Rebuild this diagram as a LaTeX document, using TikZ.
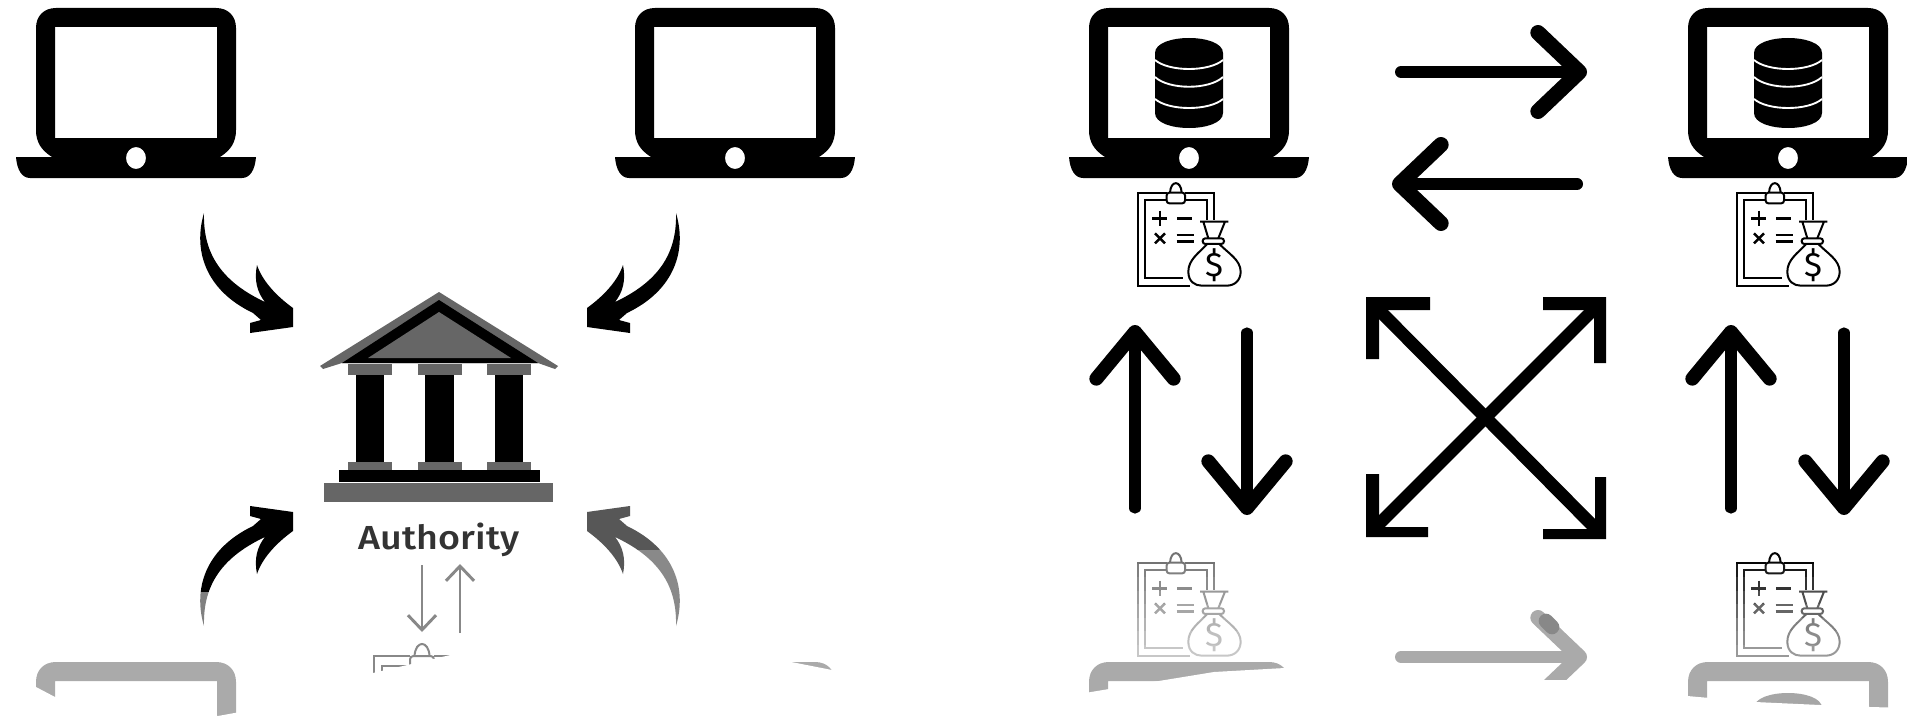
\documentclass[tikz,border=0pt]{standalone}
\usepackage{fontspec}
\setsansfont{Fira Sans}
\newfontfamily\authfont{Fira Sans Medium}
\usetikzlibrary{arrows.meta}
\definecolor{roofgrey}{HTML}{666666}
\definecolor{fadeA}{HTML}{AAAAAA}
\definecolor{fadeB}{HTML}{888888}
\tikzset{
  bigarrow/.style={line width=9pt,line cap=round,-{Straight Barb[length=31pt,width=59pt,line width=11.5pt,round]}},
  tallarrow/.style={line width=8.4pt,line cap=round,-{Straight Barb[length=35pt,width=58pt,line width=10.5pt,round]}},
  thinarrow/.style={fadeB,line width=2.2pt,-{Straight Barb[length=11pt,width=21pt,line width=2.2pt]}},
  crossline/.style={line width=9.5pt},
  pics/laptop/.style={code={
    \fill[#1,even odd rule]
      (-120,157) -- (-84,157) .. controls (-95,150) and (-100,142) .. (-100,130)
      -- (-100,28) .. controls (-100,16) and (-92,8) .. (-80,8)
      -- (80,8) .. controls (92,8) and (100,16) .. (100,28)
      -- (100,130) .. controls (100,142) and (95,150) .. (84,157)
      -- (120,157) .. controls (119,170) and (114,178) .. (106,178)
      -- (-106,178) .. controls (-114,178) and (-119,170) .. (-120,157) -- cycle
      (-81,27) rectangle (81,138)
      (0,158) ellipse [x radius=10,y radius=11];
  }},
  pics/dbicon/.style={code={
    \fill[#1] (-34,53) -- (-34,113) .. controls (-34,133) and (34,133) .. (34,113)
      -- (34,53) .. controls (34,33) and (-34,33) .. (-34,53) -- cycle;
    \draw[white,line width=1.4pt] (-34,60) .. controls (-20,72) and (20,72) .. (34,60);
    \draw[white,line width=1.4pt] (-34,77) .. controls (-20,90) and (20,90) .. (34,77);
    \draw[white,line width=1.4pt] (-34,99) .. controls (-20,111) and (20,111) .. (34,99);
  }},
  pics/ledgertop/.style={code={
    \begin{scope}[draw=#1,line width=1.5pt]
      \draw (140,68) -- (55,68) -- (55,348) -- (210,348);
      \draw (140,90) -- (75,90) -- (75,325) -- (190,325);
      \draw (195,68) -- (283,68) -- (283,150);
      \draw (195,90) -- (262,90) -- (262,150);
      \draw[rounded corners=2pt] (140,68) rectangle (195,100);
      \draw (150,68) .. controls (152,30) and (183,30) .. (185,68);
    \end{scope}
  }},
  pics/ledger/.style={code={
    \pic[transform shape] (top) at (0,0) {ledgertop=#1};
    \begin{scope}[draw=#1,line width=1.5pt]
      \draw[line width=2pt] (120,122) -- (120,168) (97,145) -- (142,145);
      \draw[line width=2pt] (172,145) -- (215,145);
      \draw[line width=1.9pt] (105,190) -- (135,220) (135,190) -- (105,220);
      \draw[line width=1.8pt] (170,195) -- (222,195) (170,215) -- (222,215);
      \draw (240,155) -- (325,155) (250,155) -- (265,205) (315,155) -- (295,205);
      \draw[rounded corners=2pt] (248,205) rectangle (312,222);
      \draw (262,222) .. controls (235,250) and (205,270) .. (205,305)
        .. controls (205,335) and (225,347) .. (245,347) -- (320,347)
        .. controls (345,347) and (362,330) .. (362,305)
        .. controls (362,270) and (325,250) .. (298,222);
    \end{scope}
    \node[transform shape,text=#1,inner sep=0pt,font={\fontsize{76}{76}\selectfont\sffamily}] (dollar) at (283,285) {\$};
  }},
  pics/swoosh/.style={code={
    \fill[#1] (204,213) .. controls (193,250) and (205,290) .. (253,313)
      -- (261,320) -- (250,323) -- (250,333) -- (293,327) -- (293,308)
      .. controls (275,295) and (262,280) .. (257,265)
      .. controls (254,280) and (257,292) .. (265,302)
      .. controls (218,280) and (203,250) .. (204,213) -- cycle;
  }}
}
\begin{document}
\begin{tikzpicture}[x=0.75pt,y=-0.75pt]
\useasboundingbox (0,0) rectangle (1907,717);
\fill[white] (0,0) rectangle (1907,717);
\begin{scope}
\clip (0,0) rectangle (1907,717);

% ---- left panel: laptops
\pic (lapA) at (136,0) {laptop=black};
\pic (lapB) at (735,0) {laptop=black};

% ---- curved arrows
\pic (swA) at (0,0) {swoosh=black};
\begin{scope}[xshift=660pt,xscale=-1]
  \pic[transform shape] (swB) at (0,0) {swoosh=black};
\end{scope}
\begin{scope}[yshift=-629.25pt,yscale=-1]
  \pic[transform shape] (swC) at (0,0) {swoosh=black};
\end{scope}
\begin{scope}[xshift=660pt,xscale=-1,yshift=-629.25pt,yscale=-1]
  \pic[transform shape] (swD) at (0,0) {swoosh=roofgrey!85!black};
\end{scope}
\fill[white,opacity=.5] (190,592) rectangle (215,632);
\fill[white,opacity=.3] (626,550) rectangle (692,632);

% ---- authority building
\fill[roofgrey] (439,292) -- (558,366) -- (555,369) -- (538,363) -- (342,363) -- (323,369) -- (320,366) -- cycle;
\fill[black] (439,300) -- (538,363) -- (342,363) -- cycle;
\fill[roofgrey] (439,312) -- (511,358) -- (368,358) -- cycle;
\foreach \cx/\hw in {370/14,439.5/14.5,509/14}{
  \fill[roofgrey] (\cx-22,364) rectangle (\cx+22,375);
  \fill[black] (\cx-\hw,375) rectangle (\cx+\hw,462);
  \fill[roofgrey] (\cx-22,462) rectangle (\cx+22,470);
}
\fill[black] (339,470) rectangle (540,482);
\fill[roofgrey] (324,483) rectangle (553,502);
\node[inner sep=0pt,text=black!80,font={\fontsize{25}{25}\selectfont\authfont},xscale=1.13] (auth) at (439,540) {Authority};

% ---- thin arrows under Authority
\coordinate (dnA) at (422,565);
\coordinate (dnB) at (422,632);
\coordinate (upA) at (460,633);
\coordinate (upB) at (460,564);
\draw[thinarrow] (dnA) -- (dnB);
\draw[thinarrow] (upA) -- (upB);

% ---- right panel: laptops and databases
\pic (lapC) at (1189,0) {laptop=black};
\pic (lapD) at (1788,0) {laptop=black};
\pic (dbC) at (1189,0) {dbicon=black};
\pic (dbD) at (1788,0) {dbicon=black};

% ---- ledgers
\pic[scale=.3333] (ledC) at (1120,170) {ledger=black};
\pic[scale=.3333] (ledD) at (1719,170) {ledger=black};
\pic[scale=.3333] (ledE) at (1120,540) {ledger=black};
\pic[scale=.3333] (ledF) at (1719,540) {ledger=black};
\pic[scale=.43] (ledG) at (350,627) {ledgertop=fadeB};
\foreach \i/\o in {0/.45,1/.5,2/.55,3/.6,4/.65,5/.7,6/.75,7/.78}{
  \fill[white,opacity=\o] (1130,550+13.5*\i) rectangle (1250,563.5+13.5*\i);
}
\foreach \i/\o in {0/.02,1/.1,2/.2,3/.3,4/.4,5/.5,6/.55,7/.6}{
  \fill[white,opacity=\o] (1729,550+13.5*\i) rectangle (1849,563.5+13.5*\i);
}

% ---- horizontal arrows
\coordinate (hAa) at (1401,72);
\coordinate (hAb) at (1587,72);
\coordinate (hBa) at (1577,184);
\coordinate (hBb) at (1392,184);
\coordinate (hCa) at (1401,657);
\coordinate (hCb) at (1587,657);
\draw[bigarrow] (hAa) -- (hAb);
\draw[bigarrow] (hBa) -- (hBb);
\draw[bigarrow,fadeA] (hCa) -- (hCb);
\draw[fadeB,line width=11pt,line cap=round] (1546,621) -- (1552,627);

% ---- vertical arrows
\coordinate (vAa) at (1135,508);
\coordinate (vAb) at (1135,325);
\coordinate (vBa) at (1247,333);
\coordinate (vBb) at (1247,515);
\coordinate (vCa) at (1731,508);
\coordinate (vCb) at (1731,325);
\coordinate (vDa) at (1844,333);
\coordinate (vDb) at (1844,515);
\draw[tallarrow] (vAa) -- (vAb);
\draw[tallarrow] (vBa) -- (vBb);
\draw[tallarrow] (vCa) -- (vCb);
\draw[tallarrow] (vDa) -- (vDb);

% ---- crossing arrows with square heads
\coordinate (xTL) at (1372,303);
\coordinate (xTR) at (1600,303);
\coordinate (xBL) at (1372,531);
\coordinate (xBR) at (1600,533);
\draw[crossline] (xTL) -- (xBR);
\draw[crossline] (xTR) -- (xBL);
\fill (1366,297) -- (1430,297) -- (1430,310) -- (1379,310) -- (1379,359) -- (1366,359) -- cycle;
\fill (1606,297) -- (1543,297) -- (1543,310) -- (1594,310) -- (1594,363) -- (1606,363) -- cycle;
\fill (1366,537) -- (1428,537) -- (1428,527) -- (1379,527) -- (1379,474) -- (1366,474) -- cycle;
\fill (1606,539) -- (1543,539) -- (1543,529) -- (1595,529) -- (1595,477) -- (1606,477) -- cycle;

% ---- faded bottom row
\pic (lapE) at (136,654) {laptop=fadeA};
\pic (lapF) at (735,654) {laptop=fadeA};
\pic (lapG) at (1189,654) {laptop=fadeA};
\pic (lapH) at (1788,654) {laptop=fadeA};
\pic (dbH) at (1788,655) {dbicon=fadeB!75!white};

% ---- white wash over the bottom
\fill[white] (20,680) -- (36,687) -- (55,697) -- (218,716) -- (240,712) -- (240,720) -- (20,720) -- cycle;
\fill[white] (373,673) -- (459,653) -- (600,636) -- (781,660) -- (832,670) -- (860,680) -- (860,720) -- (365,720) -- (365,675) -- cycle;
\fill[white] (1085,693) -- (1109,689) -- (1165,680) -- (1214,672) -- (1285,668) -- (1283,658) -- (1320,655) -- (1320,720) -- (1085,720) -- cycle;
\fill[white] (1660,692) -- (1687,696) -- (1755,702) -- (1820,705) -- (1870,707) -- (1907,708) -- (1907,720) -- (1660,720) -- cycle;
\fill[white] (1520,680) rectangle (1600,720);
\end{scope}
\end{tikzpicture}
\end{document}
